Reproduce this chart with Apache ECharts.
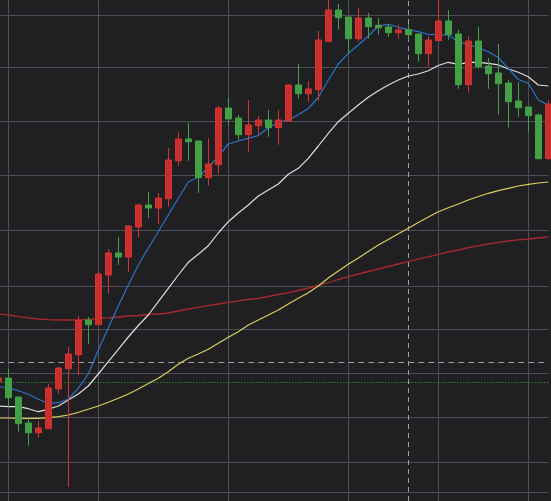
<!DOCTYPE html>
<html>
<head>
<meta charset="utf-8">
<script src="https://cdn.jsdelivr.net/npm/echarts@6/dist/echarts.min.js"></script>
<style>
html,body{margin:0;padding:0;background:#202023;}
#c{width:551px;height:501px;}
</style>
</head>
<body>
<div id="c"></div>
<script>
const categories = ['B01','B02','B03','B04','B05','B06','B07','B08','B09','B10','B11','B12','B13','B14','B15','B16','B17','B18','B19','B20','B21','B22','B23','B24','B25','B26','B27','B28','B29','B30','B31','B32','B33','B34','B35','B36','B37','B38','B39','B40','B41','B42','B43','B44','B45','B46','B47','B48','B49','B50','B51','B52','B53','B54','B55','B56'];

const opens  = [111.83,112.2,110.3,107.7,106.73,107.13,111.1,113.13,114.53,118.0,117.53,122.5,124.7,124.3,127.3,129.5,129.2,130.13,133.93,136.1,135.9,132.23,133.53,139.2,138.2,136.53,137.43,138.0,137.23,137.9,141.5,140.63,141.03,145.87,149.0,148.3,146.13,148.2,147.47,147.3,146.73,147.03,146.6,144.63,145.93,147.9,146.6,141.53,145.9,143.4,142.7,141.7,139.9,139.3,138.5,134.13];
const closes = [112.2,110.23,107.63,106.73,107.2,111.2,113.2,114.6,117.97,117.53,122.6,124.7,124.3,127.4,129.5,129.2,130.2,134.0,136.1,135.83,132.23,133.6,139.2,138.1,136.53,137.5,138.0,137.23,138.0,141.5,140.63,141.1,146.0,149.0,148.23,146.13,148.2,147.33,147.23,146.73,147.0,146.53,144.63,146.0,147.9,146.53,141.53,145.9,143.33,142.63,141.63,139.83,139.23,138.43,134.13,139.6];
const lows   = [111.7,109.2,106.83,105.43,106.23,107.13,110.6,101.3,112.5,115.63,117.53,120.63,123.5,122.83,126.3,128.2,127.6,129.33,133.43,133.93,130.73,131.43,132.63,137.43,136.03,134.83,136.53,136.33,135.53,137.9,140.13,139.83,139.93,145.77,147.03,144.67,145.83,146.13,146.53,146.33,146.13,145.93,143.83,143.33,145.93,146.03,141.13,140.73,143.13,141.13,138.53,137.23,138.33,136.83,134.13,134.03];
const highs  = [112.4,113.1,110.3,108.17,107.9,111.6,113.3,115.3,118.4,118.3,122.9,125.1,126.3,127.5,129.63,130.8,130.7,135.2,136.73,137.73,135.9,136.2,139.4,140.23,138.5,140.0,138.4,139.0,139.0,141.6,143.6,141.9,146.9,150.5,149.6,148.3,149.2,148.7,148.2,147.6,147.53,147.6,146.6,146.4,150.5,149.0,147.0,146.4,147.3,144.2,145.6,142.0,141.8,139.3,138.67,140.0];

const maFast = [111.35,111.2,110.93,110.57,110.07,109.67,109.73,110.1,111.17,112.6,115.0,117.2,119.4,121.5,123.5,125.2,126.83,128.5,130.17,131.8,132.3,133.25,134.37,135.6,135.9,136.17,136.45,137.2,137.8,137.97,138.53,139.15,140.25,142.0,143.6,144.67,145.5,146.4,147.4,147.57,147.27,147.05,146.83,146.55,146.53,146.5,145.83,145.55,145.23,144.83,144.25,143.17,142.05,141.67,140.0,139.5];
const maMid  = [109.4,109.33,109.33,109.13,108.83,109.07,109.4,110.0,110.6,111.4,112.6,113.83,115.07,116.3,117.45,118.5,119.83,121.17,122.5,123.77,124.57,125.43,126.7,127.83,128.7,129.5,130.4,131.0,131.6,132.57,133.17,134.17,135.4,136.67,137.83,138.67,139.5,140.27,140.93,141.5,142.0,142.4,142.6,142.93,143.45,143.77,143.57,143.77,143.77,143.67,143.52,143.1,142.78,142.33,141.5,141.4];
const maSlow = [108.2,108.2,108.17,108.17,108.17,108.23,108.33,108.5,108.77,109.07,109.4,109.77,110.17,110.6,111.1,111.65,112.17,112.83,113.57,114.17,114.6,115.07,115.67,116.27,116.83,117.5,118.0,118.5,119.0,119.6,120.17,120.73,121.4,122.2,122.9,123.57,124.2,124.85,125.5,126.06,126.62,127.17,127.75,128.3,128.83,129.23,129.6,130.0,130.35,130.67,130.93,131.17,131.4,131.57,131.7,131.8];
const maLong = [118.6,118.52,118.33,118.22,118.1,118.04,118.0,118.0,118.0,118.07,118.15,118.22,118.3,118.4,118.45,118.55,118.6,118.7,118.9,119.1,119.27,119.43,119.6,119.77,119.92,120.05,120.17,120.35,120.55,120.73,120.95,121.2,121.45,121.75,122.05,122.33,122.6,122.85,123.1,123.35,123.6,123.83,124.08,124.32,124.57,124.8,125.0,125.23,125.42,125.6,125.77,125.9,126.02,126.1,126.2,126.3];

const priceLevels = [148.45,143.25,137.85,132.45,126.95,121.35,117.05,112.65,108.25,103.75,100.75];
const timeMarks = ['B02','B11','B24','B36','B45','B54'];
const refPriceDashed = 113.75;
const refPriceDotted = 111.75;
const refTime = 'B42';

const candleData = opens.map((o, i) => [o, closes[i], lows[i], highs[i]]);
const emptyData = categories.map(() => '-');

const chart = echarts.init(document.getElementById('c'), null, {renderer: 'canvas'});
chart.setOption({
  backgroundColor: '#202023',
  animation: false,
  grid: {left: -1.7, right: 2.7, top: 0, bottom: 0, containLabel: false, outerBoundsMode: 'none'},
  xAxis: {
    type: 'category', data: categories, boundaryGap: false,
    axisLine: {show: false}, axisTick: {show: false}, axisLabel: {show: false},
    splitLine: {show: true, interval: (i, v) => timeMarks.includes(v), lineStyle: {color: '#4e4e58', width: 1}}
  },
  yAxis: {
    type: 'value', min: 99.9, max: 150, scale: true,
    axisLine: {show: false}, axisTick: {show: false}, axisLabel: {show: false}, splitLine: {show: false}
  },
  series: [
    {
      type: 'line', data: emptyData, silent: true, symbol: 'none',
      markLine: {
        silent: true, z: 1, symbol: ['none', 'none'], label: {show: false}, animation: false,
        lineStyle: {color: '#4e4e58', type: 'solid', width: 1},
        data: priceLevels.map(v => ({yAxis: v}))
      }
    },
    {
      type: 'line', data: emptyData, silent: true, symbol: 'none',
      markLine: {
        silent: true, z: 2, symbol: ['none', 'none'], label: {show: false}, animation: false,
        data: [
          {yAxis: refPriceDashed, lineStyle: {color: '#9d9da4', type: [6, 4], width: 1}},
          {yAxis: refPriceDotted, lineStyle: {color: '#33b043', type: [1, 2], width: 1}},
          {xAxis: refTime, lineStyle: {color: '#9d9da4', type: [5, 4], width: 1}}
        ]
      }
    },
    {type: 'line', name: 'MA long', data: maLong, symbol: 'none', z: 5, silent: true, lineStyle: {color: '#a8292d', width: 1.3}},
    {type: 'line', name: 'MA slow', data: maSlow, symbol: 'none', z: 5, silent: true, lineStyle: {color: '#d9cf5c', width: 1.2}},
    {type: 'line', name: 'MA mid', data: maMid, symbol: 'none', z: 5, silent: true, lineStyle: {color: '#dedede', width: 1.2}},
    {type: 'line', name: 'MA fast', data: maFast, symbol: 'none', z: 5, silent: true, lineStyle: {color: '#2a74c9', width: 1.2}},
    {
      type: 'candlestick', data: candleData, z: 10, clip: false, barWidth: 6,
      itemStyle: {color: '#c8302e', color0: '#43a047', borderColor: '#d43230', borderColor0: '#43a047', borderWidth: 1}
    }
  ]
});
</script>
</body>
</html>
